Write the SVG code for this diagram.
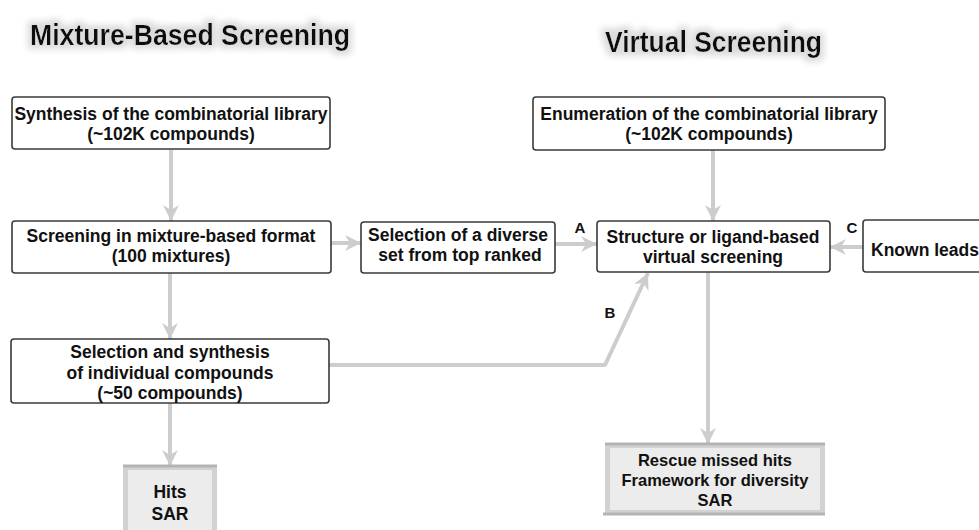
<svg xmlns="http://www.w3.org/2000/svg" width="979" height="530" viewBox="0 0 979 530">
  <defs>
    <style>
      .box { fill: #ffffff; stroke: #3a3a3a; stroke-width: 1.6; }
      .txt { font-family: "Liberation Sans", Arial, sans-serif; font-weight: bold; font-size: 17.5px; fill: #111; text-anchor: middle; }
      .small { font-size: 16.5px; }
      .title { font-family: "Liberation Sans", Arial, sans-serif; font-weight: bold; font-size: 29px; fill: #111; }
      .lbl { font-family: "Liberation Sans", Arial, sans-serif; font-weight: bold; font-size: 15px; fill: #111; text-anchor: middle; }
      .conn { fill: none; stroke: #cdcdcd; stroke-width: 4; stroke-linejoin: round; }
      .outer { fill: #d2d2d2; }
      .inner { fill: #ececec; }
      .bar { stroke: #b4b4b4; stroke-width: 3; }
    </style>
    <marker id="head" markerUnits="userSpaceOnUse" markerWidth="18" markerHeight="18" refX="16" refY="9" orient="auto">
      <path d="M0,1 L16,9 L0,17 L5,9 z" fill="#cdcdcd"/>
    </marker>
    <filter id="halo" x="-10%" y="-50%" width="120%" height="200%">
      <feMorphology in="SourceAlpha" operator="dilate" radius="4" result="grow"/>
      <feGaussianBlur in="grow" stdDeviation="3" result="soft"/>
      <feFlood flood-color="#dcdcdc"/>
      <feComposite in2="soft" operator="in" result="glow"/>
      <feMerge>
        <feMergeNode in="glow"/>
        <feMergeNode in="SourceGraphic"/>
      </feMerge>
    </filter>
  </defs>

  <rect width="979" height="530" fill="#ffffff"/>

  <!-- column titles -->
  <g id="title-mixture" filter="url(#halo)">
    <text class="title" x="30" y="45" textLength="320" lengthAdjust="spacingAndGlyphs">Mixture-Based Screening</text>
  </g>
  <g id="title-virtual" filter="url(#halo)">
    <text class="title" x="605" y="52" textLength="217" lengthAdjust="spacingAndGlyphs">Virtual Screening</text>
  </g>

  <!-- connectors -->
  <g id="connectors">
    <path class="conn" d="M171,150 L171,221" marker-end="url(#head)"/>
    <path class="conn" d="M170,273 L170,339" marker-end="url(#head)"/>
    <path class="conn" d="M170,403 L170,466" marker-end="url(#head)"/>
    <path class="conn" d="M331,243 L361,243" marker-end="url(#head)"/>
    <path class="conn" d="M555,244 L597,244" marker-end="url(#head)"/>
    <path class="conn" d="M713,150 L713,221" marker-end="url(#head)"/>
    <path class="conn" d="M863,247 L830,247" marker-end="url(#head)"/>
    <path class="conn" d="M329,365 L605,365 L648,273" marker-end="url(#head)"/>
    <path class="conn" d="M708,272 L708,444" marker-end="url(#head)"/>
    <text class="lbl" x="580" y="233">A</text>
    <text class="lbl" x="610" y="318">B</text>
    <text class="lbl" x="852" y="233">C</text>
  </g>

  <g id="synthesis">
    <rect class="box" x="12" y="97" width="318" height="52" rx="3"/>
    <text class="txt" x="171" y="120">Synthesis of the combinatorial library</text>
    <text class="txt" x="171" y="140">(~102K compounds)</text>
  </g>

  <g id="mixture-screening">
    <rect class="box" x="12" y="221" width="319" height="52" rx="3"/>
    <text class="txt" x="171" y="242">Screening in mixture-based format</text>
    <text class="txt" x="171" y="262">(100 mixtures)</text>
  </g>

  <g id="individual-compounds">
    <rect class="box" x="11" y="339" width="318" height="64" rx="3"/>
    <text class="txt" x="170" y="358">Selection and synthesis</text>
    <text class="txt" x="170" y="379">of individual compounds</text>
    <text class="txt" x="170" y="399">(~50 compounds)</text>
  </g>

  <g id="hits">
    <rect class="outer" x="123" y="465" width="94" height="70"/>
    <rect class="inner" x="128" y="470" width="84" height="65"/>
    <line class="bar" x1="123" y1="466" x2="217" y2="466"/>
    <text class="txt" x="170" y="498">Hits</text>
    <text class="txt" x="170" y="520">SAR</text>
  </g>

  <g id="diverse-set">
    <rect class="box" x="361" y="222" width="194" height="51" rx="3"/>
    <text class="txt" x="458" y="241">Selection of a diverse</text>
    <text class="txt" x="460" y="261">set from top ranked</text>
  </g>

  <g id="enumeration">
    <rect class="box" x="533" y="97" width="352" height="53" rx="3"/>
    <text class="txt" x="709" y="120">Enumeration of the combinatorial library</text>
    <text class="txt" x="709" y="140">(~102K compounds)</text>
  </g>

  <g id="virtual-screening">
    <rect class="box" x="597" y="221" width="233" height="51" rx="3"/>
    <text class="txt" x="713" y="243">Structure or ligand-based</text>
    <text class="txt" x="713" y="263">virtual screening</text>
  </g>

  <g id="known-leads">
    <rect class="box" x="863" y="220" width="120" height="52" rx="3"/>
    <text class="txt" x="871" y="256" style="text-anchor:start">Known leads</text>
  </g>

  <g id="rescue">
    <rect class="outer" x="605" y="443" width="220" height="72"/>
    <rect class="inner" x="610" y="448" width="210" height="62"/>
    <line class="bar" x1="605" y1="444" x2="825" y2="444"/>
    <line class="bar" x1="603" y1="514" x2="825" y2="514"/>
    <text class="txt small" x="715" y="466">Rescue missed hits</text>
    <text class="txt small" x="715" y="486">Framework for diversity</text>
    <text class="txt small" x="715" y="506">SAR</text>
  </g>
</svg>
